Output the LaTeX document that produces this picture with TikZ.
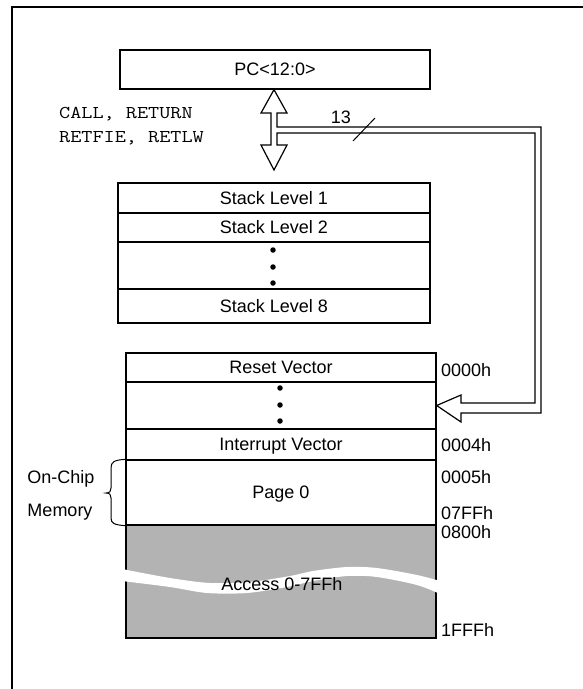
\documentclass[tikz,border=0pt]{standalone}
\usepackage{fontspec}
\setmainfont{Liberation Sans}
\newfontfamily\courierlike[FakeStretch=1.2]{Latin Modern Mono}
\definecolor{memgray}{RGB}{179,179,179}
\begin{document}
\begin{tikzpicture}[x=1pt,y=-1pt,
  txt/.style={font=\fontsize{18}{21}\selectfont, inner sep=0pt, text height=12.9pt, text depth=0pt},
  mono/.style={font=\courierlike\fontsize{18}{21}\selectfont, inner sep=0pt, anchor=base west},
  row/.style={txt, draw, line width=1.3pt, minimum height=#1},
  srow/.style={row=#1, minimum width=312pt},
  mrow/.style={row=#1, minimum width=310pt},
  addr/.style={txt, anchor=west},
  bigdot/.style={circle, fill, inner sep=0pt, minimum size=5.5pt},
  bus/.style={line width=1.2pt, fill=white, line join=miter},
]
\useasboundingbox (0,0) rectangle (583,689);
% frame
\draw[line width=1.5pt] (12,689) -- (12,7) -- (583,7);

% PC register
\node[txt, draw, line width=1.3pt, minimum width=310pt, minimum height=39pt] (pc) at (275,69.5) {PC<12:0>};

% stack
\node[srow=30pt] (s1) at (274,198) {Stack Level 1};
\node[srow=29pt] (s2) at (274,227.5) {Stack Level 2};
\node[srow=47pt] (sd) at (274,265.5) {};
\node[srow=34pt] (s8) at (274,306) {Stack Level 8};
\node[bigdot] (sd1) at (273,250) {};
\node[bigdot] (sd2) at (273,267) {};
\node[bigdot] (sd3) at (273,283) {};

% instruction labels
\node[mono] (ins1) at (59,118) {CALL, RETURN};
\node[mono] (ins2) at (59,142) {RETFIE, RETLW};

% program memory
\node[mrow=29pt] (rv) at (281,367.5) {Reset Vector};
\node[mrow=47pt] (md) at (281,405.5) {};
\node[mrow=31pt] (iv) at (281,444.5) {Interrupt Vector};
\node[mrow=65pt] (p0) at (281,492.5) {Page 0};
\node[mrow=113pt, fill=memgray] (acc) at (281,581.5) {};
\node[bigdot] (md1) at (280,388) {};
\node[bigdot] (md2) at (280,405) {};
\node[bigdot] (md3) at (280,421) {};

% broken band through the gray area
\fill[white] plot[smooth] coordinates {(122,569) (170,578) (210,583) (250,582) (290,576) (313,571) (347,567) (377,568) (417,575) (440,581)}
  -- plot[smooth] coordinates {(440,594) (417,585) (377,577) (347,576) (313,581) (287,587) (247,593) (207,593) (170,587) (122,581)} -- cycle;
\node[txt] (acct) at (282,584) {Access 0-7FFh};

% addresses
\node[addr] (a0) at (441,370) {0000h};
\node[addr] (a4) at (441,445) {0004h};
\node[addr] (a5) at (441,477) {0005h};
\node[addr] (a7) at (441,513) {07FFh};
\node[addr] (a8) at (441,532) {0800h};
\node[addr] (af) at (441,630) {1FFFh};

% on-chip memory brace
\node[txt] (oc) at (61,477) {On-Chip};
\node[txt] (mem) at (60,510) {Memory};
\draw[line width=1pt] (p0.north west) .. controls (114,460) and (111,462) .. (111,468)
  -- (111,488) .. controls (111,491) and (110,493) .. (106,493)
  .. controls (110,493) and (111,495) .. (111,498)
  -- (111,518) .. controls (111,523) and (114,525) .. (p0.south west);

% hollow double arrow and 13-bit bus to the memory
\coordinate (tipU) at (pc.south -| 274,0);
\coordinate (tipD) at (274,170);
\coordinate (tipM) at (md.east);
\draw[bus] (tipU) -- (287,113) -- (277,113) -- (277,127) -- (541,127) -- (541,413)
  -- (461,413) -- (461,422) -- (tipM) -- (461,395) -- (461,403) -- (535,403)
  -- (535,133) -- (277,133) -- (277,145) -- (287,145) -- (tipD) -- (261,145)
  -- (271,145) -- (271,113) -- (261,113) -- cycle;
\node[txt] (n13) at (341,117) {13};
\draw[line width=1pt] (353,141) -- (375,118);
\end{tikzpicture}
\end{document}
